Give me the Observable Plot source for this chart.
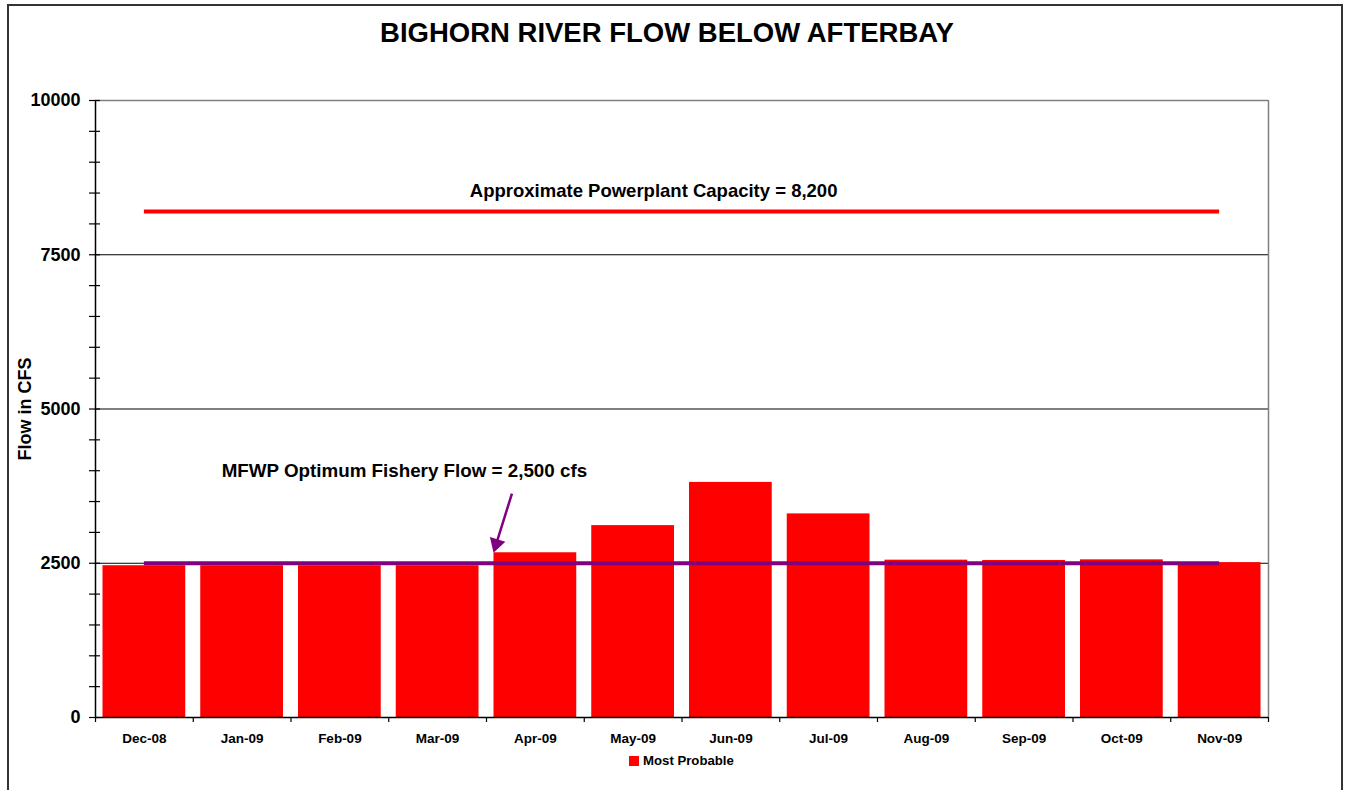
<!DOCTYPE html>
<html><head><meta charset="utf-8">
<script src="https://cdn.jsdelivr.net/npm/d3@7"></script>
<script src="https://cdn.jsdelivr.net/npm/@observablehq/plot@0.6"></script>
<style>
html,body{margin:0;padding:0;background:#fff;font-family:"Liberation Sans",Arial,sans-serif;overflow:hidden;}
#frame{position:absolute;left:7px;top:4px;width:1336px;height:820px;border:2px solid #333;box-sizing:border-box;}
#title{position:absolute;left:0;top:19px;width:1334px;text-align:center;font-weight:bold;font-size:27.5px;line-height:28px;}
#chart{position:absolute;left:0;top:60px;}
#ylab{position:absolute;left:25px;top:409px;transform:translate(-50%,-50%) rotate(-90deg);font-weight:bold;font-size:18px;white-space:nowrap;}
#legend{position:absolute;left:629px;top:754px;font-weight:bold;font-size:13.2px;line-height:14px;display:flex;align-items:center;}
#legend span.sw{display:inline-block;width:10px;height:10px;background:#ff0000;margin-right:4px;}
</style>
</head><body>
<div id="frame"></div>
<div id="title">BIGHORN RIVER FLOW BELOW AFTERBAY</div>
<div id="chart"></div>
<div id="ylab">Flow in CFS</div>
<div id="legend"><span class="sw"></span><span id="legtext"></span></div>
<script>
const months = ["Dec-08","Jan-09","Feb-09","Mar-09","Apr-09","May-09","Jun-09","Jul-09","Aug-09","Sep-09","Oct-09","Nov-09"];
const flows = [2460,2460,2460,2460,2670,3110,3810,3300,2550,2545,2555,2510];
const seriesName = "Most Probable";
const capacity = 8200;
const fishery = 2500;
const yMajor = [0,2500,5000,7500,10000];
const yMinor = d3.range(0,10001,500);
const capacityLabel = "Approximate Powerplant Capacity = 8,200";
const fisheryLabel = "MFWP Optimum Fishery Flow = 2,500 cfs";
// annotation arrow (data units): from label down to the line
const arrowStart = {x:4.26, y:3630};
const arrowTip = {x:4.07, y:2680};
const arrowHead = {x:4.10, y:2815};

const table = months.map((m,i)=>({month:m, i, flow:flows[i]}));
const first = 0.5, last = months.length - 0.5;
const boundaries = d3.range(months.length + 1);
const centers = months.map((m,i)=>i+0.5);

document.getElementById("legtext").textContent = seriesName;

const chart = Plot.plot({
  width:1348, height:690,
  marginLeft:95, marginRight:80, marginTop:40, marginBottom:33,
  x:{type:"linear", domain:[0, months.length], axis:null},
  y:{domain:[0,10000], axis:null},
  style:{fontFamily:"'Liberation Sans', Arial, sans-serif", fontWeight:"bold", color:"#000", background:"transparent", overflow:"visible"},
  marks:[
    Plot.ruleY([2500,5000,7500], {stroke:"#000", strokeWidth:1}),
    Plot.ruleY([10000], {stroke:"#808080", strokeWidth:1.5}),
    Plot.ruleX([months.length], {stroke:"#808080", strokeWidth:1.5}),
    Plot.rectY(table, {x1:"i", x2:d=>d.i+1, y:"flow", fill:"#ff0000", insetLeft:7.5, insetRight:7.5}),
    Plot.ruleY([capacity], {x1:first, x2:last, stroke:"#ff0000", strokeWidth:4}),
    Plot.ruleY([fishery], {x1:first, x2:last, stroke:"#800080", strokeWidth:4}),
    Plot.link([{a:arrowStart, b:arrowHead}], {x1:d=>d.a.x, y1:d=>d.a.y, x2:d=>d.b.x, y2:d=>d.b.y, stroke:"#800080", strokeWidth:2.5}),
    Plot.dot([arrowHead], {x:"x", y:"y", symbol:"triangle", r:6, fill:"#800080", stroke:"none", rotate:197}),
    Plot.text([{x:5.71, y:8540, t:capacityLabel}], {x:"x", y:"y", text:"t", fontSize:18.5, fontWeight:"bold", fill:"#000"}),
    Plot.text([{x:3.16, y:3990, t:fisheryLabel}], {x:"x", y:"y", text:"t", fontSize:18.8, fontWeight:"bold", fill:"#000"}),
    Plot.ruleX([0], {stroke:"#000", strokeWidth:1.5}),
    Plot.ruleY([0], {stroke:"#000", strokeWidth:1.5}),
    Plot.axisY(yMinor, {tickSize:11, dx:5, tickFormat:()=>"", stroke:"#000", strokeWidth:1.2}),
    Plot.axisY(yMajor, {tickSize:0, tickPadding:15, fontSize:18, fontWeight:"bold", tickFormat:d=>String(d)}),
    Plot.axisX(boundaries, {tickSize:5, tickFormat:()=>"", stroke:"#000", strokeWidth:1.2}),
    Plot.axisX(centers, {tickSize:0, tickPadding:16, fontSize:13.5, fontWeight:"bold", tickFormat:d=>months[Math.round(d-0.5)]})
  ]
});
document.getElementById("chart").appendChild(chart);
</script>
</body></html>
